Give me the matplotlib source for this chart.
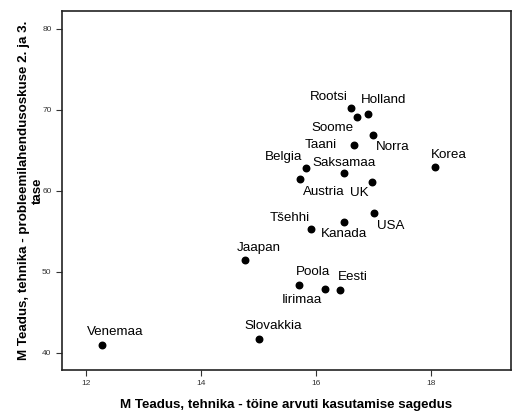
import matplotlib
matplotlib.use('Agg')
import matplotlib.pyplot as plt

plt.rcParams['font.family'] = ['Liberation Sans', 'DejaVu Sans']

countries = ['Rootsi', 'Soome', 'Holland', 'Norra', 'Taani', 'Belgia', 'Saksamaa',
             'Austria', 'UK', 'Korea', 'USA', 'Kanada', 'Tšehhi', 'Jaapan',
             'Poola', 'Iirimaa', 'Eesti', 'Slovakkia', 'Venemaa']
computer_use = [16.61, 16.72, 16.90, 16.99, 16.66, 15.82, 16.49,
                15.72, 16.97, 18.07, 17.01, 16.49, 15.92, 14.76,
                15.70, 16.16, 16.42, 15.01, 12.27]
problem_solving = [70.2, 69.1, 69.5, 66.9, 65.7, 62.8, 62.2,
                   61.4, 61.1, 63.0, 57.2, 56.2, 55.3, 51.4,
                   48.3, 47.9, 47.7, 41.7, 41.0]

# label offsets in pixels (dx, dy, ha)
offsets = {
    'Rootsi': (-3, 11, 'right'),
    'Soome': (-4, -11, 'right'),
    'Holland': (-7, 14, 'left'),
    'Norra': (3, -12, 'left'),
    'Taani': (-17, 0, 'right'),
    'Belgia': (-3, 11, 'right'),
    'Saksamaa': (0, 10, 'center'),
    'Austria': (3, -13, 'left'),
    'UK': (-3, -11, 'right'),
    'Korea': (-4, 12, 'left'),
    'USA': (3, -13, 'left'),
    'Kanada': (0, -12, 'center'),
    'Tšehhi': (-2, 11, 'right'),
    'Jaapan': (-8, 12, 'left'),
    'Poola': (-3, 13, 'left'),
    'Iirimaa': (-3, -11, 'right'),
    'Eesti': (-2, 13, 'left'),
    'Slovakkia': (-15, 13, 'left'),
    'Venemaa': (-15, 13, 'left'),
}

fig = plt.figure(figsize=(5.12, 4.12), dpi=100)
ax = fig.add_axes([0.121, 0.102, 0.877, 0.871])
ax.scatter(computer_use, problem_solving, s=22, color='black', zorder=3)

for name, x, y in zip(countries, computer_use, problem_solving):
    dx, dy, ha = offsets[name]
    ax.annotate(name, (x, y), xytext=(dx, dy), textcoords='offset pixels',
                ha=ha, va='center', fontsize=9.6)

ax.set_xlim(11.58, 19.39)
ax.set_ylim(37.86, 82.2)
ax.set_xticks([12, 14, 16, 18])
ax.set_yticks([40, 50, 60, 70, 80])
ax.tick_params(labelsize=6, length=4, width=0.8, colors='#333333')
for sp in ax.spines.values():
    sp.set_linewidth(1.2)
    sp.set_color('#222222')

ax.set_xlabel('M Teadus, tehnika - töine arvuti kasutamise sagedus',
              fontsize=9.6, fontweight='bold', labelpad=8)
ax.set_ylabel('M Teadus, tehnika - probleemilahendusoskuse 2. ja 3.\ntase',
              fontsize=9.6, fontweight='bold', labelpad=-1)

plt.savefig('out.png', dpi=100)
plt.close()
